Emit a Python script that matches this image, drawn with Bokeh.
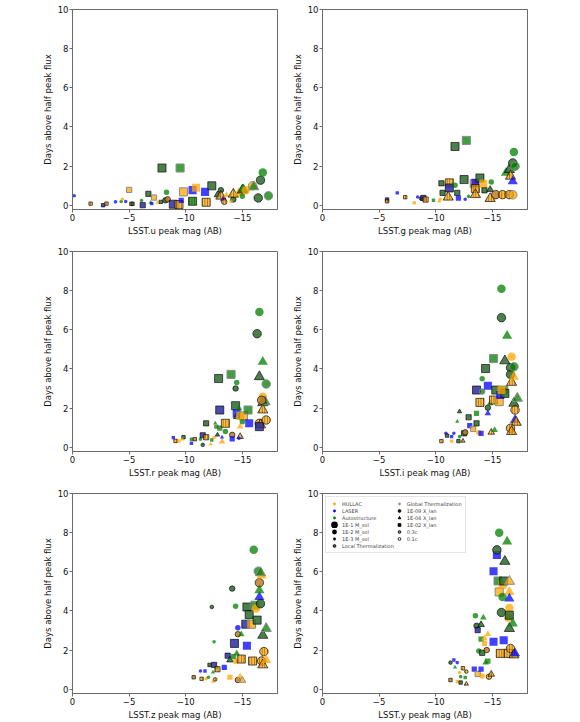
from bokeh.plotting import figure
from bokeh.models import (ColumnDataSource, Range1d, FixedTicker, CustomJSTickFormatter,
                          Legend, LegendItem)
from bokeh.layouts import column, row
from bokeh.embed import file_html
from bokeh.resources import INLINE

# ---------------- data ----------------
# code: atom (H=HULLAC, L=LASER, A=Autostructure), mass (1=1E-1, 2=1E-2, 3=1E-3 M_sol),
#       X_lan (o=1E-09, t=1E-04, s=1E-02), thermalization (L=local, G=global), velocity (3=0.3c, 1=0.1c)
u_mag = [-0.15, -1.6, -2.7, -3.0, -3.8, -4.3, -4.4, -4.7, -5.0, -5.2, -5.3, -6.1, -6.2, -6.7, -6.9, -7.0, -7.2, -7.5, -7.8, -7.9, -8.3, -8.2, -8.4, -8.9, -9.4, -9.5, -9.6, -9.8, -10.6, -10.6, -10.9, -11.8, -11.7, -12.3, -12.8, -13.1, -13.1, -13.3, -13.4, -13.6, -14.2, -14.2, -14.7, -15.0, -15.1, -15.3, -15.0, -15.9, -16.0, -16.4, -16.6, -16.8, -17.3, -14.0]
u_days = [0.48, 0.08, 0.0, 0.08, 0.17, 0.19, 0.3, 0.19, 0.78, 0.07, 0.07, 0.24, 0.0, 0.58, 0.14, 0.08, 0.39, 0.14, 0.17, 1.9, 0.66, 0.25, 0.3, 0.05, 0.03, 1.9, 0.25, 0.68, 0.77, 0.2, 0.89, 0.15, 0.68, 0.99, 0.53, 0.77, 0.46, 0.3, 0.17, 0.51, 0.29, 0.56, 0.63, 0.77, 0.82, 0.77, 0.46, 0.99, 0.94, 0.37, 1.28, 1.67, 0.48, 0.2]
u_code = ["L3oG1", "H3sL3", "L3sL1", "H3sL3", "L3oG1", "A3oG1", "H3oG1", "L3oG1", "H2sG3", "H3sL3", "A3sL1", "A3oG1", "L2sL1", "A2sL1", "A3tG1", "L3sG1", "H2sG3", "H3tG1", "A3sL1", "A1sL1", "A2oG1", "A2oL1", "H2oL1", "L1sL1", "H1sL3", "A1sG3", "L2sG1", "H1sG3", "L1sG1", "A1sL3", "H1sG1", "H1sL3", "L1sG1", "A1sL1", "A2tL1", "A2oL1", "H1tL3", "L2tG1", "H2oL3", "H2tG1", "A2oL1", "H1tL3", "H1tG1", "A1tL1", "A1tG1", "H1oG1", "A2oG1", "H1oG3", "A1tG3", "A1oL1", "A1oL1", "A1oG1", "A1oG3", "H3oG1"]

g_mag = [-5.7, -5.7, -6.6, -7.3, -8.1, -8.4, -8.7, -8.9, -9.1, -9.8, -10.3, -10.5, -10.6, -10.4, -11.2, -11.2, -11.1, -11.7, -11.7, -11.9, -12.0, -12.5, -12.7, -12.6, -12.9, -13.4, -13.5, -13.5, -13.5, -13.9, -14.2, -14.3, -14.9, -14.8, -14.8, -15.3, -15.9, -16.5, -16.8, -16.2, -16.5, -16.6, -16.8, -16.8, -16.9, -17.0]
g_days = [0.29, 0.2, 0.63, 0.41, 0.12, 0.42, 0.34, 0.37, 0.29, 0.25, 0.2, 1.12, 0.63, 0.3, 1.14, 0.88, 0.41, 3.0, 1.02, 0.63, 0.36, 1.31, 3.31, 0.3, 0.45, 1.1, 1.14, 0.85, 0.54, 1.39, 1.1, 0.76, 1.19, 0.8, 0.34, 0.54, 0.54, 0.54, 0.53, 1.65, 1.82, 1.48, 1.22, 2.16, 2.72, 1.99]
g_code = ["L3sL1", "H3sL3", "L3sG1", "H3sL3", "H3sG1", "L3oG1", "A3oL1", "L2sL1", "H2sL3", "A3sG1", "H3tG1", "A2sL1", "A2sL1", "H3oG1", "H1sL3", "L1sL1", "H1tL3", "A1sL1", "A2oG1", "A2sL1", "L2sG1", "A1sL1", "A1sG3", "L3oG1", "A3oG1", "H1sG3", "L1sG1", "H1sL3", "H1tL3", "A1sL1", "H1sG1", "A2sL1", "A2oG1", "A2tL1", "H1tL3", "H1oL1", "H1oL3", "H1oL3", "H1oG3", "A1tG1", "A1tL1", "H1tL3", "L1tG1", "A1oL1", "A1oG1", "A1oG3"]

r_mag = [-8.9, -9.1, -9.4, -9.8, -9.7, -10.5, -10.5, -10.8, -11.3, -11.5, -11.5, -11.8, -11.8, -12.2, -12.3, -12.5, -12.6, -12.7, -12.8, -12.9, -13.0, -13.0, -13.2, -13.2, -13.5, -13.5, -14.0, -14.1, -14.1, -14.4, -14.5, -14.4, -14.5, -14.5, -14.7, -14.8, -15.1, -14.8, -14.8, -14.7, -15.0, -15.6, -15.5, -16.3, -16.5, -16.5, -16.8, -16.8, -16.8, -16.8, -17.1, -17.0, -16.5, -16.6, -16.5, -17.1, -16.7]
r_days = [0.49, 0.32, 0.32, 0.51, 0.4, 0.2, 0.41, 0.41, 0.41, 0.61, 0.12, 1.22, 0.51, 0.15, 0.37, 0.49, 1.22, 1.05, 0.63, 3.51, 1.9, 0.97, 0.29, 0.51, 1.22, 0.8, 3.72, 0.63, 0.42, 3.0, 3.3, 2.12, 1.73, 1.56, 1.99, 1.6, 1.6, 1.05, 0.54, 0.46, 1.3, 1.22, 1.9, 5.8, 6.91, 3.6, 4.36, 2.58, 2.27, 1.9, 3.23, 2.32, 1.22, 1.14, 1.05, 1.39, 2.4]
r_code = ["L3sG1", "H3sL3", "H3sG1", "A3sL1", "H3tG1", "L3sG1", "A3sG1", "H3sL1", "A3oG1", "L2sL1", "A3oL1", "A2sL1", "H2sL3", "H3tG1", "A3sG1", "H3oG1", "A3tG1", "A3sG3", "A3tL1", "A1sL1", "L1sL1", "A2sG1", "H2tG1", "L3tG1", "H1sL3", "A2oG1", "A1sG3", "H2oL1", "L2sG1", "A2oL1", "A2oG1", "A1sL1", "L1sG1", "A2tL1", "A2tG1", "H1sG1", "H1sG3", "H2tG1", "H2tL3", "L3oG1", "A2oG1", "L1sG1", "A1sG3", "A1oL1", "A1oG1", "A1tL1", "A1tG1", "H1oG1", "A1tL1", "H1tL3", "A1oG3", "A1tG3", "H1oL3", "H1tL3", "L1sL1", "H1oL3", "H1oL1"]

i_mag = [-10.5, -10.9, -11.0, -11.4, -11.4, -11.6, -11.9, -12.0, -12.1, -12.1, -12.4, -12.5, -12.6, -12.9, -13.0, -13.3, -13.6, -13.6, -13.6, -13.8, -13.9, -14.0, -14.1, -14.1, -14.4, -14.6, -14.6, -14.6, -14.8, -14.9, -15.1, -15.1, -15.2, -15.3, -15.6, -15.7, -15.8, -15.8, -16.0, -16.1, -16.1, -16.3, -16.6, -16.6, -16.7, -16.7, -16.9, -16.9, -17.0, -17.2, -17.0, -17.1, -16.6, -16.7, -15.8, -16.9]
i_days = [0.31, 0.71, 0.59, 0.31, 0.54, 0.71, 1.31, 0.31, 1.82, 0.54, 0.32, 0.71, 0.76, 1.53, 1.1, 0.93, 1.22, 1.73, 2.92, 0.75, 2.29, 0.71, 3.5, 2.84, 4.02, 3.14, 2.02, 1.73, 2.24, 0.76, 4.53, 2.41, 0.88, 2.92, 2.33, 2.67, 8.1, 6.62, 2.92, 2.75, 4.41, 5.69, 4.06, 3.72, 4.62, 3.31, 4.11, 2.24, 1.9, 2.5, 1.39, 1.27, 0.97, 0.8, 2.92, 3.6]
i_code = ["H3sL3", "L3oG1", "A3sL1", "H3sG1", "L3sG1", "L3oG1", "A3tG1", "A3sL1", "A3tL1", "A3oG1", "H3tL3", "A2sL1", "H2oL1", "A2sL1", "L2sG1", "H2sG3", "A2sL1", "A2sG1", "L1sL1", "H2oG1", "H1sL3", "L2sG1", "A2oG1", "A2oG3", "A1sL1", "L1sG1", "A2oL1", "L2tG1", "A2tG1", "H2tL3", "A1sG3", "H1sL3", "A2tG1", "A1sL1", "H1sG3", "L1sG1", "A1oG1", "A1oL1", "A1sG3", "A1sL1", "A1tL1", "A1tG1", "A1oL1", "A1oL1", "H1oG1", "H1tL3", "A1oG3", "A1tL1", "H1oL3", "A1tG3", "L1tG1", "H1tL3", "H1oL3", "H1tL3", "H1sG1", "H1tG1"]

z_mag = [-10.7, -11.3, -11.4, -11.7, -11.8, -12.0, -12.1, -12.3, -12.4, -12.4, -12.5, -12.5, -12.6, -12.7, -12.8, -13.4, -13.7, -13.9, -13.9, -14.1, -14.2, -14.3, -14.4, -14.4, -14.5, -14.6, -14.6, -14.6, -14.8, -14.9, -14.9, -15.0, -15.3, -15.4, -15.4, -15.9, -15.6, -15.8, -16.0, -16.1, -16.2, -16.3, -16.4, -16.5, -16.5, -16.5, -16.6, -16.7, -16.8, -16.9, -16.7, -16.8, -17.1, -17.1, -16.6]
z_days = [0.61, 0.93, 0.53, 0.93, 0.53, 0.61, 1.24, 4.2, 0.86, 0.39, 1.24, 2.42, 0.5, 1.1, 1.02, 1.12, 1.71, 1.49, 0.61, 5.14, 1.66, 2.34, 4.24, 1.41, 1.83, 2.81, 3.14, 0.47, 0.64, 1.54, 2.8, 0.45, 3.32, 4.2, 2.22, 1.44, 3.81, 3.32, 7.12, 4.29, 4.12, 3.53, 6.03, 5.44, 4.71, 5.05, 4.37, 5.81, 2.75, 1.92, 1.44, 1.24, 3.1, 1.49, 5.95]
z_code = ["H3sL1", "L3oG1", "H3sL3", "L3sG1", "H3oG1", "A3oG1", "A3sL1", "A3oL1", "A3tG1", "H3tG1", "L2sL1", "A3oG1", "H3oL3", "A3oG1", "H2sL3", "L2sG1", "L2sL1", "A2tL1", "H2sG1", "A2oL1", "A2sG1", "L1sL1", "A2oG1", "H2oG1", "A2tG1", "H2oL1", "L2oG1", "H2oL1", "H2tG1", "H1sL3", "A2tG1", "H2tG3", "L1sL1", "A1sL1", "L1sG1", "H1sL3", "A1sL1", "H1sG3", "A1oG1", "A1sG3", "H1oG1", "A1sL1", "A1oG3", "H1oL1", "L1tG1", "A1tG1", "A1oL1", "H1tG1", "A1tL1", "H1oL3", "H1oL3", "H1tL3", "A1tG3", "H1tG1", "A1tG3"]

y_mag = [-11.3, -11.3, -11.6, -11.7, -11.9, -11.9, -12.1, -12.2, -12.2, -12.4, -12.6, -12.7, -12.7, -13.4, -13.5, -13.6, -13.7, -13.7, -13.8, -14.0, -14.0, -14.0, -14.1, -14.2, -14.1, -14.3, -14.3, -14.4, -14.5, -14.6, -14.6, -14.7, -14.9, -15.1, -15.1, -15.4, -15.4, -15.6, -15.5, -15.6, -15.7, -15.9, -15.9, -16.0, -15.8, -16.0, -16.3, -16.1, -16.4, -16.5, -16.4, -16.5, -16.5, -16.5, -16.5, -16.5, -16.6, -16.8, -16.9, -17.0]
y_days = [0.47, 1.36, 1.49, 1.12, 1.36, 0.39, 0.85, 0.64, 0.34, 1.07, 0.6, 0.9, 0.27, 1.02, 3.75, 3.24, 3.02, 0.78, 1.95, 2.56, 1.02, 3.3, 1.86, 3.66, 0.68, 2.34, 2.6, 1.36, 2.0, 2.81, 1.44, 0.64, 0.76, 2.42, 6.03, 6.86, 7.12, 8.0, 5.53, 4.97, 1.83, 5.34, 4.71, 5.53, 3.92, 2.5, 7.54, 6.53, 3.66, 4.15, 1.83, 3.78, 4.97, 5.51, 4.63, 3.1, 2.08, 3.36, 1.75, 1.83]
y_code = ["H3sL1", "A3oL1", "L3sG1", "A3tG1", "L3oG1", "H3sG1", "H3oG1", "A3oG1", "A3sL1", "H3sL3", "A3sG1", "H3oL3", "H3tL3", "L2sG1", "A2oG1", "A2oL1", "L2sL1", "H2sG3", "A2oG1", "A2sG1", "L2sG1", "A2tL1", "A2sL1", "A2tG1", "H2oG1", "H2sG1", "H2tG1", "A2tG1", "H2oL1", "H2tG1", "A2sG1", "H2oL3", "H2tL3", "L1sG1", "L1sG1", "L1sG1", "A1oL1", "A1oG1", "A1sG3", "H1sG3", "H1sL3", "H1sG1", "A1oG1", "A1sL1", "A1oL1", "L1sG1", "A1tG1", "A1tL1", "H1oG1", "H1oG1", "H1sL3", "A1sL1", "H1tG1", "H1tG3", "L1tG1", "A1tL1", "H1oL3", "A1tG1", "H1tL3", "L1tG1"]

bands = ["u", "g", "r", "i", "z", "y"]
x_ticks = [0, -5, -10, -15]
y_ticks = [0, 2, 4, 6, 8, 10]
atom_labels = ["HULLAC", "LASER", "Autostructure"]
mass_labels = ["1E-1 M_sol", "1E-2 M_sol", "1E-3 M_sol"]
xlan_labels = ["1E-09 X_lan", "1E-04 X_lan", "1E-02 X_lan"]
therm_labels = ["Local Thermalization", "Global Thermalization"]
vel_labels = ["0.3c", "0.1c"]

DATA = {"u": (u_mag, u_days, u_code), "g": (g_mag, g_days, g_code),
        "r": (r_mag, r_days, r_code), "i": (i_mag, i_days, i_code),
        "z": (z_mag, z_days, z_code), "y": (y_mag, y_days, y_code)}

# ---------------- styles ----------------
BASE = {"H": "#FFA500", "L": "#0000FF", "A": "#008000"}
DARK = {"H": "#c27c26", "L": "#2b2ba3", "A": "#2c682c"}
SIZE = {"1": 8.5, "2": 5.5, "3": 3.6}
MARK = {"o": "circle", "t": "triangle", "s": "square"}
MSCALE = {"circle": 1.0, "triangle": 1.2, "square": 0.95}
FONT = "DejaVu Sans"
NAN = float("nan")


def make_source(mags, days, codes):
    cols = {k: [] for k in ("x", "y", "marker", "size", "fill", "falpha",
                            "line", "lalpha", "lwidth", "hatch")}
    for m, d, c in zip(mags, days, codes):
        atom, mass, shape, look = c[0], c[1], c[2], c[3:5]
        mk = MARK[shape]
        cols["x"].append(m)
        cols["y"].append(d)
        cols["marker"].append(mk)
        cols["size"].append(SIZE[mass] * MSCALE[mk])
        if look == "L3":
            fill, fa, lc, la, lw, h = BASE[atom], 0.75, "black", 0.8, 0.8, "|"
        elif look == "L1":
            fill, fa, lc, la, lw, h = DARK[atom], 0.85, "black", 0.8, 0.8, " "
        elif look == "G3":
            fill, fa, lc, la, lw, h = BASE[atom], 0.75, "#8a8a8a", 1.0, 1.0, " "
        else:
            fill, fa, lc, la, lw, h = BASE[atom], 0.75, "#000000", 0.0, 0.0, " "
        cols["fill"].append(fill)
        cols["falpha"].append(fa)
        cols["line"].append(lc)
        cols["lalpha"].append(la)
        cols["lwidth"].append(lw)
        cols["hatch"].append(h)
    return ColumnDataSource(cols)


def make_panel(band, left_col, row_idx):
    top = 9 if row_idx == 0 else 5
    bottom = 28 if row_idx == 2 else 37
    p = figure(frame_width=205, frame_height=200,
               x_range=Range1d(0, -18.1), y_range=Range1d(-0.22, 10),
               output_backend="svg", toolbar_location=None, tools="",
               min_border_left=72 if left_col else 28,
               min_border_right=12 if left_col else 5,
               min_border_top=top, min_border_bottom=bottom,
               background_fill_color="white", border_fill_color="white")
    p.grid.visible = False
    p.outline_line_color = "#6a6a6a"
    p.outline_line_width = 1
    p.xaxis.ticker = FixedTicker(ticks=x_ticks)
    p.yaxis.ticker = FixedTicker(ticks=y_ticks)
    p.xaxis.formatter = CustomJSTickFormatter(
        code="return tick < 0 ? '\\u2212' + Math.abs(tick) : String(tick);")
    p.xaxis.axis_label = f"LSST.{band} peak mag (AB)"
    p.yaxis.axis_label = "Days above half peak flux"
    for ax in (p.xaxis[0], p.yaxis[0]):
        ax.axis_line_color = "#6a6a6a"
        ax.major_tick_line_color = "#6a6a6a"
        ax.major_tick_out = 3
        ax.major_tick_in = 0
        ax.minor_tick_out = 0
        ax.minor_tick_in = 0
        ax.major_label_text_font = FONT
        ax.major_label_text_font_size = "8.5px"
        ax.major_label_text_color = "#111111"
        ax.major_label_standoff = 1
        ax.axis_label_text_font = FONT
        ax.axis_label_text_font_size = "8.5px"
        ax.axis_label_text_font_style = "normal"
        ax.axis_label_text_color = "#111111"
        ax.axis_label_standoff = 2

    mags, days, codes = DATA[band]
    src = make_source(mags, days, codes)
    p.scatter("x", "y", source=src, marker="marker", size="size",
              fill_color="fill", fill_alpha="falpha",
              line_color="line", line_alpha="lalpha", line_width="lwidth",
              hatch_pattern="hatch", hatch_color="black", hatch_alpha=0.55,
              hatch_scale=2.6, hatch_weight=0.7)
    return p


def add_legend(p):
    def proxy(**kw):
        # one NaN point: never drawn on the plot, but lets the legend draw its glyph
        return p.scatter(x=[NAN], y=[NAN], **kw)
    items = []
    for lab, a in zip(atom_labels, ["H", "L", "A"]):
        items.append(LegendItem(label=lab, renderers=[proxy(marker="circle", fill_color=BASE[a], line_alpha=0)]))
    for lab, lw in zip(mass_labels, [4.0, 2.0, 0.1]):
        items.append(LegendItem(label=lab, renderers=[proxy(marker="circle", fill_color="black", line_color="black", line_width=lw)]))
    items.append(LegendItem(label=therm_labels[0], renderers=[proxy(marker="circle", fill_color="#555555", line_color="black", line_width=0.8)]))
    items.append(LegendItem(label=therm_labels[1], renderers=[proxy(marker="circle", fill_color="#9a9a9a", line_alpha=0)]))
    for lab, mk in zip(xlan_labels, ["circle", "triangle", "square"]):
        items.append(LegendItem(label=lab, renderers=[proxy(marker=mk, fill_color="black", line_color="black", line_width=0.8)]))
    items.append(LegendItem(label=vel_labels[0], renderers=[proxy(marker="circle", fill_color="#888888", line_color="black", line_width=0.8)]))
    items.append(LegendItem(label=vel_labels[1], renderers=[proxy(marker="circle", fill_color="white", line_color="black", line_width=0.8)]))
    leg = Legend(items=items, location="top_left", orientation="vertical", nrows=7,
                 label_text_font=FONT, label_text_font_size="5px",
                 label_height=7, glyph_height=7, glyph_width=10,
                 spacing=0, padding=3, margin=3, label_standoff=3,
                 border_line_color="#cccccc", border_line_width=1,
                 background_fill_color="white", background_fill_alpha=0.85)
    p.add_layout(leg)


panels = []
for idx, b in enumerate(bands):
    panels.append(make_panel(b, idx % 2 == 0, idx // 2))
add_legend(panels[5])

layout = column(row(panels[0], panels[1]), row(panels[2], panels[3]), row(panels[4], panels[5]))

open("out.html", "w").write(file_html(layout, INLINE, title="LSST peak mag vs days above half peak flux"))
